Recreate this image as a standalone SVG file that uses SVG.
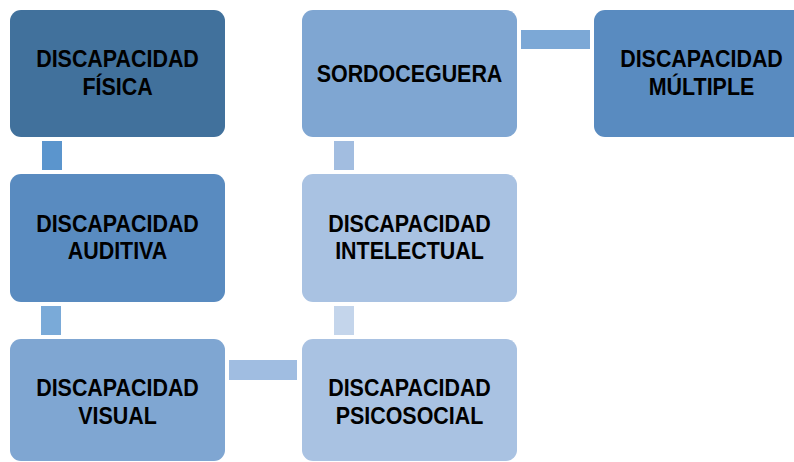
<svg xmlns="http://www.w3.org/2000/svg" width="794" height="462" viewBox="0 0 794 462">
<style>
.lbl{font-family:"Liberation Sans",Arial,sans-serif;font-weight:bold;font-size:24.5px;fill:#000;text-anchor:middle}
.c1{fill:#41719C}.c2{fill:#598BC0}.c3{fill:#7FA6D2}.c4{fill:#A9C2E2}
</style>
<rect width="794" height="462" fill="#fff"/>
<g id="connectors">
<rect x="42" y="141" width="20" height="29" fill="#5B95CD"/>
<rect x="41" y="306" width="20" height="29" fill="#7AAAD8"/>
<rect x="229" y="360" width="68" height="20" fill="#A0BDE1"/>
<rect x="334" y="306" width="20" height="29" fill="#C4D5EB"/>
<rect x="334" y="141" width="20" height="29" fill="#A2BDE0"/>
<rect x="521" y="30" width="69" height="19" fill="#7CA8D6"/>
</g>
<g id="n-fisica">
<rect class="c1" x="10" y="10" width="215" height="127" rx="11"/>
<text class="lbl" transform="translate(117.5,0) scale(0.875,1)"><tspan x="0" y="67.5">DISCAPACIDAD</tspan><tspan x="0" y="95.5">FÍSICA</tspan></text>
</g>
<g id="n-auditiva">
<rect class="c2" x="10" y="174" width="215" height="128" rx="11"/>
<text class="lbl" transform="translate(117.5,0) scale(0.875,1)"><tspan x="0" y="232">DISCAPACIDAD</tspan><tspan x="0" y="259">AUDITIVA</tspan></text>
</g>
<g id="n-visual">
<rect class="c3" x="10" y="339" width="215" height="122" rx="11"/>
<text class="lbl" transform="translate(117.5,0) scale(0.875,1)"><tspan x="0" y="396.5">DISCAPACIDAD</tspan><tspan x="0" y="424.5">VISUAL</tspan></text>
</g>
<g id="n-psicosocial">
<rect class="c4" x="302" y="339" width="215" height="122" rx="11"/>
<text class="lbl" transform="translate(409.5,0) scale(0.875,1)"><tspan x="0" y="396.5">DISCAPACIDAD</tspan><tspan x="0" y="424.5">PSICOSOCIAL</tspan></text>
</g>
<g id="n-intelectual">
<rect class="c4" x="302" y="174" width="215" height="128" rx="11"/>
<text class="lbl" transform="translate(409.5,0) scale(0.875,1)"><tspan x="0" y="232">DISCAPACIDAD</tspan><tspan x="0" y="259">INTELECTUAL</tspan></text>
</g>
<g id="n-sordoceguera">
<rect class="c3" x="302" y="10" width="215" height="127" rx="11"/>
<text class="lbl" transform="translate(409.5,0) scale(0.875,1)"><tspan x="0" y="82">SORDOCEGUERA</tspan></text>
</g>
<g id="n-multiple">
<rect class="c2" x="594" y="10" width="215" height="127" rx="11"/>
<text class="lbl" transform="translate(701.5,0) scale(0.875,1)"><tspan x="0" y="67.5">DISCAPACIDAD</tspan><tspan x="0" y="95.5">MÚLTIPLE</tspan></text>
</g>
</svg>
